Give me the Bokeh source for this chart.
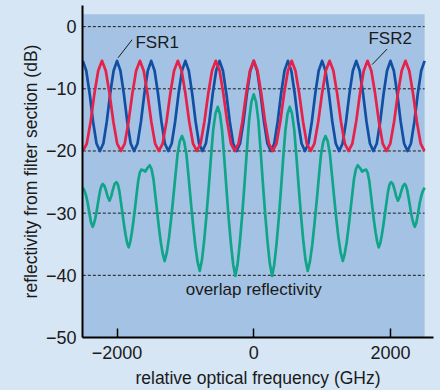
from bokeh.plotting import figure
from bokeh.models import Range1d, BoxAnnotation, FixedTicker
from bokeh.core.properties import value
from bokeh.embed import file_html
from bokeh.resources import INLINE

# ---------------- data ----------------
# FSR1 comb (blue), relative optical frequency in GHz, reflectivity in dB
BLUE_X = [
    -2500, -2450, -2400, -2350, -2300, -2250, -2200, -2150, -2100, -2050,
    -2000, -1950, -1900, -1850, -1800, -1750, -1700, -1650, -1600, -1550,
    -1500, -1450, -1400, -1350, -1300, -1250, -1200, -1150, -1100, -1050,
    -1000, -950, -900, -850, -800, -750, -700, -650, -600, -550,
    -500, -450, -400, -350, -300, -250, -200, -150, -100, -50,
    0, 50, 100, 150, 200, 250, 300, 350, 400, 450,
    500, 550, 600, 650, 700, 750, 800, 850, 900, 950,
    1000, 1050, 1100, 1150, 1200, 1250, 1300, 1350, 1400, 1450,
    1500, 1550, 1600, 1650, 1700, 1750, 1800, 1850, 1900, 1950,
    2000, 2050, 2100, 2150, 2200, 2250, 2300, 2350, 2400, 2450,
    2500,
]
BLUE_Y = [
    -5.5, -7.1, -10.8, -15.3, -18.8, -20.0, -18.8, -15.3, -10.8, -7.1,
    -5.5, -7.1, -10.8, -15.3, -18.8, -20.0, -18.8, -15.3, -10.8, -7.1,
    -5.5, -7.1, -10.8, -15.3, -18.8, -20.0, -18.8, -15.3, -10.8, -7.1,
    -5.5, -7.1, -10.8, -15.3, -18.8, -20.0, -18.8, -15.3, -10.8, -7.1,
    -5.5, -7.1, -10.8, -15.3, -18.8, -20.0, -18.8, -15.3, -10.8, -7.1,
    -5.5, -7.1, -10.8, -15.3, -18.8, -20.0, -18.8, -15.3, -10.8, -7.1,
    -5.5, -7.1, -10.8, -15.3, -18.8, -20.0, -18.8, -15.3, -10.8, -7.1,
    -5.5, -7.1, -10.8, -15.3, -18.8, -20.0, -18.8, -15.3, -10.8, -7.1,
    -5.5, -7.1, -10.8, -15.3, -18.8, -20.0, -18.8, -15.3, -10.8, -7.1,
    -5.5, -7.1, -10.8, -15.3, -18.8, -20.0, -18.8, -15.3, -10.8, -7.1,
    -5.5,
]

# FSR2 comb (red)
RED_X = [
    -2497.5, -2442, -2386.5, -2331, -2275.5, -2220, -2164.5, -2109, -2053.5, -1998,
    -1942.5, -1887, -1831.5, -1776, -1720.5, -1665, -1609.5, -1554, -1498.5, -1443,
    -1387.5, -1332, -1276.5, -1221, -1165.5, -1110, -1054.5, -999, -943.5, -888,
    -832.5, -777, -721.5, -666, -610.5, -555, -499.5, -444, -388.5, -333,
    -277.5, -222, -166.5, -111, -55.5, 0, 55.5, 111, 166.5, 222,
    277.5, 333, 388.5, 444, 499.5, 555, 610.5, 666, 721.5, 777,
    832.5, 888, 943.5, 999, 1054.5, 1110, 1165.5, 1221, 1276.5, 1332,
    1387.5, 1443, 1498.5, 1554, 1609.5, 1665, 1720.5, 1776, 1831.5, 1887,
    1942.5, 1998, 2053.5, 2109, 2164.5, 2220, 2275.5, 2331, 2386.5, 2442,
    2497.5,
]
RED_Y = [
    -20.0, -18.8, -15.3, -10.8, -7.1, -5.5, -7.1, -10.8, -15.3, -18.8,
    -20.0, -18.8, -15.3, -10.8, -7.1, -5.5, -7.1, -10.8, -15.3, -18.8,
    -20.0, -18.8, -15.3, -10.8, -7.1, -5.5, -7.1, -10.8, -15.3, -18.8,
    -20.0, -18.8, -15.3, -10.8, -7.1, -5.5, -7.1, -10.8, -15.3, -18.8,
    -20.0, -18.8, -15.3, -10.8, -7.1, -5.5, -7.1, -10.8, -15.3, -18.8,
    -20.0, -18.8, -15.3, -10.8, -7.1, -5.5, -7.1, -10.8, -15.3, -18.8,
    -20.0, -18.8, -15.3, -10.8, -7.1, -5.5, -7.1, -10.8, -15.3, -18.8,
    -20.0, -18.8, -15.3, -10.8, -7.1, -5.5, -7.1, -10.8, -15.3, -18.8,
    -20.0, -18.8, -15.3, -10.8, -7.1, -5.5, -7.1, -10.8, -15.3, -18.8,
    -20.0,
]

# overlap reflectivity (green)
GREEN_X = [
    -2500, -2476, -2452, -2428, -2404, -2380, -2356, -2338, -2319, -2301,
    -2283, -2264, -2246, -2227, -2209, -2185, -2160, -2135, -2110, -2085,
    -2060, -2035, -2010, -1987, -1965, -1942, -1920, -1897, -1874, -1852,
    -1829, -1806, -1783, -1760, -1736, -1713, -1690, -1667, -1644, -1615,
    -1585, -1553, -1522, -1495, -1467, -1440, -1413, -1385, -1358, -1330,
    -1303, -1271, -1239, -1208, -1176, -1144, -1113, -1081, -1049, -1017,
    -984, -952, -920, -887, -855, -822, -790, -757, -724, -691,
    -658, -626, -593, -560, -527, -495, -463, -430, -398, -366,
    -334, -301, -269, -235, -202, -168, -134, -101, -67, -34,
    0,
    34, 67, 101, 134, 168, 202, 235, 269, 301, 334,
    366, 398, 430, 463, 495, 527, 560, 593, 626, 658,
    691, 724, 757, 790, 822, 855, 887, 920, 952, 984,
    1017, 1049, 1081, 1113, 1144, 1176, 1208, 1239, 1271, 1303,
    1330, 1358, 1385, 1413, 1440, 1467, 1495, 1522, 1553, 1585,
    1615, 1644, 1667, 1690, 1713, 1736, 1760, 1783, 1806, 1829,
    1852, 1874, 1897, 1920, 1942, 1965, 1987, 2010, 2035, 2060,
    2085, 2110, 2135, 2160, 2185, 2209, 2227, 2246, 2264, 2283,
    2301, 2319, 2338, 2356, 2380, 2404, 2428, 2452, 2476, 2500,
]
GREEN_Y = [
    -25.9, -26.4, -27.2, -28.4, -30.0, -31.5, -32.2, -31.7, -30.9, -29.9,
    -28.7, -27.4, -26.3, -25.6, -25.3, -25.6, -26.4, -27.4, -28.0, -27.3,
    -26.2, -25.3, -25.0, -25.4, -26.5, -28.3, -30.1, -31.9, -33.5, -34.8,
    -35.5, -34.6, -33.1, -31.3, -29.1, -26.9, -24.8, -23.5, -23.0, -23.1,
    -23.3, -22.7, -22.3, -22.9, -24.5, -27.1, -29.8, -32.5, -34.8, -36.6,
    -37.7, -36.3, -33.9, -30.9, -27.4, -23.8, -20.4, -18.4, -17.6, -18.5,
    -20.6, -24.3, -28.2, -31.9, -35.2, -37.8, -39.3, -37.5, -34.3, -30.3,
    -25.8, -21.1, -16.6, -14.0, -12.9, -14.0, -16.7, -21.3, -26.2, -30.9,
    -34.9, -38.2, -40.1, -38.1, -34.6, -30.2, -25.2, -20.0, -15.0, -12.1,
    -10.9,
    -12.1, -15.0, -20.0, -25.2, -30.2, -34.6, -38.1, -40.1, -38.2, -34.9,
    -30.9, -26.2, -21.3, -16.7, -14.0, -12.9, -14.0, -16.6, -21.1, -25.8,
    -30.3, -34.3, -37.5, -39.3, -37.8, -35.2, -31.9, -28.2, -24.3, -20.6,
    -18.5, -17.6, -18.4, -20.4, -23.8, -27.4, -30.9, -33.9, -36.3, -37.7,
    -36.6, -34.8, -32.5, -29.8, -27.1, -24.5, -22.9, -22.3, -22.7, -23.3,
    -23.1, -23.0, -23.5, -24.8, -26.9, -29.1, -31.3, -33.1, -34.6, -35.5,
    -34.8, -33.5, -31.9, -30.1, -28.3, -26.5, -25.4, -25.0, -25.3, -26.2,
    -27.3, -28.0, -27.4, -26.4, -25.6, -25.3, -25.6, -26.3, -27.4, -28.7,
    -29.9, -30.9, -31.7, -32.2, -31.5, -30.0, -28.4, -27.2, -26.4, -25.9,
]

X_TICKS = [-2000, 0, 2000]
X_TICK_LABELS = ["\u22122000", "0", "2000"]
Y_TICKS = [0, -10, -20, -30, -40, -50]
Y_TICK_LABELS = ["0", "\u221210", "\u221220", "\u221230", "\u221240", "\u221250"]
GRID_LEVELS = [0, -10, -20, -30, -40]
DATA_X_EXTENT = [-2500, 2500]
DATA_Y_TOP = 2.0

X_LABEL = "relative optical frequency (GHz)"
Y_LABEL = "reflectivity from filter section (dB)"
FSR1_LABEL = "FSR1"
FSR2_LABEL = "FSR2"
OVERLAP_LABEL = "overlap reflectivity"

# ---------------- style ----------------
OUTER_BG = "#d6e6f5"
PLOT_BG = "#a4c3e4"
BLUE = "#124fa3"
RED = "#e6214a"
GREEN = "#10a589"
INK = "#1a1a1a"
FONT = "Liberation Sans"

p = figure(
    width=440, height=390,
    output_backend="svg", toolbar_location=None,
    x_range=Range1d(-2505, 2630), y_range=Range1d(-50, 3.4),
    min_border_left=82, min_border_right=7, min_border_top=5, min_border_bottom=53,
    background_fill_color=OUTER_BG, border_fill_color=OUTER_BG,
    outline_line_color=None,
)
p.xgrid.visible = False
p.ygrid.visible = False

p.add_layout(BoxAnnotation(left=-2505, right=DATA_X_EXTENT[1], top=DATA_Y_TOP,
                           bottom=-50, fill_color=PLOT_BG, fill_alpha=1.0,
                           line_color=None, level="underlay"))

# dashed reference lines
p.segment(x0=[DATA_X_EXTENT[0]] * len(GRID_LEVELS), x1=[DATA_X_EXTENT[1]] * len(GRID_LEVELS),
          y0=GRID_LEVELS, y1=GRID_LEVELS, line_color=INK, line_width=1, line_dash="3 2")

p.line(GREEN_X, GREEN_Y, line_color=GREEN, line_width=2.7, line_join="round")
p.line(BLUE_X, BLUE_Y, line_color=BLUE, line_width=2.7, line_join="round")
p.line(RED_X, RED_Y, line_color=RED, line_width=2.7, line_join="round")

# annotations
p.segment(x0=[-1984, 1732], y0=[-5.0, -6.1], x1=[-1779, 1952], y1=[-2.1, -3.6],
          line_color=INK, line_width=1)
p.text(x=[-1731, 1678], y=[-2.6, -1.95], text=[FSR1_LABEL, FSR2_LABEL],
       text_font=value(FONT), text_font_size="17px", text_color=INK,
       text_align="left", text_baseline="middle")
p.text(x=[0], y=[-42.3], text=[OVERLAP_LABEL],
       text_font=value(FONT), text_font_size="17px", text_color=INK,
       text_align="center", text_baseline="middle")

# axes
for ax in (p.xaxis[0], p.yaxis[0]):
    ax.axis_line_color = "black"
    ax.axis_line_width = 2
    ax.minor_tick_line_color = None
    ax.major_label_text_font = FONT
    ax.major_label_text_font_size = "18px"
    ax.major_label_text_color = INK
    ax.axis_label_text_font = FONT
    ax.axis_label_text_font_size = "17.5px"
    ax.axis_label_text_font_style = "normal"
    ax.axis_label_text_color = INK

p.xaxis.ticker = FixedTicker(ticks=X_TICKS)
p.xaxis.major_label_overrides = dict(zip(X_TICKS, X_TICK_LABELS))
p.xaxis.major_tick_in = 9
p.xaxis.major_tick_out = 0
p.xaxis.major_tick_line_width = 1.5
p.xaxis.major_tick_line_color = "black"
p.xaxis.major_label_standoff = 8
p.xaxis.axis_label = X_LABEL
p.xaxis.axis_label_standoff = 6

p.yaxis.ticker = FixedTicker(ticks=Y_TICKS)
p.yaxis.major_label_overrides = dict(zip(Y_TICKS, Y_TICK_LABELS))
p.yaxis.major_tick_in = 0
p.yaxis.major_tick_out = 0
p.yaxis.major_tick_line_color = None
p.yaxis.major_label_standoff = 6
p.yaxis.axis_label = Y_LABEL
p.yaxis.axis_label_standoff = 2

html = file_html(p, INLINE, title="reflectivity")
html = html.replace("<body>", '<body style="margin:0;background-color:%s;">' % OUTER_BG)
open("out.html", "w").write(html)
